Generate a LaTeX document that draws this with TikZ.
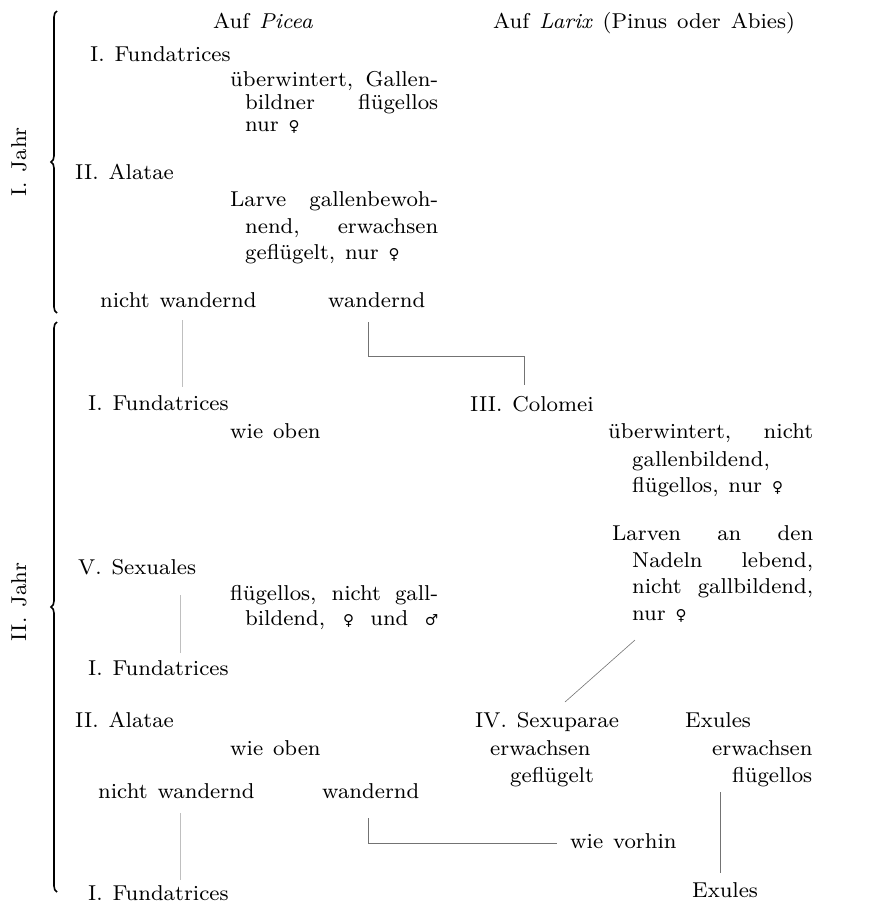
\documentclass[tikz,border=0pt]{standalone}
\usepackage{fontspec}
\setmainfont{lmroman8-regular.otf}[ItalicFont=lmroman8-italic.otf,BoldFont=lmroman10-bold.otf,WordSpace=1.3]
\newfontfamily\symf{DejaVu Serif}
\usetikzlibrary{decorations.pathreplacing}
\newcommand{\fem}{{\symf\fontsize{15}{18}\selectfont ♀}}
\newcommand{\mal}{{\symf\fontsize{15}{18}\selectfont ♂}}
\newcommand{\jline}[2]{\makebox[#1][s]{#2}}
\begin{document}
\begin{tikzpicture}[x=1pt,y=1pt,
  t/.style={anchor=base west,inner sep=0pt,font=\fontsize{21.5}{26}\selectfont},
  conn/.style={draw=black!55,line width=0.6pt},
  faint/.style={draw=black!25,line width=0.6pt},
  bracestyle/.style={decorate,decoration={brace,amplitude=6pt},line width=1.6pt}]
\useasboundingbox (0,0) rectangle (868,-905);
% braces
\draw[bracestyle] (57,-313) -- (57,-11);
\draw[bracestyle] (57,-892) -- (57,-322);
\node[t,anchor=center,rotate=90] (j1) at (19,-162) {I. Jahr};
\node[t,anchor=center,rotate=90] (j2) at (19,-602) {II. Jahr};
% headers
\node[t] (hp) at (213,-28) {Auf \textit{Picea}};
\node[t] (hl) at (493,-28) {Auf \textit{Larix} (Pinus oder Abies)};
% year I
\node[t] (f1) at (90,-61) {I. Fundatrices};
\node[t] (d1a) at (230,-86) {\jline{208pt}{überwintert, Gallen-}};
\node[t] (d1b) at (245,-109) {\jline{193pt}{bildner flügellos}};
\node[t] (d1c) at (245,-131) {nur \fem};
\node[t] (a1) at (75,-179) {II. Alatae};
\node[t] (d2a) at (230,-206) {\jline{208pt}{Larve gallenbewoh-}};
\node[t] (d2b) at (245,-233) {\jline{193pt}{nend, erwachsen}};
\node[t] (d2c) at (245,-259) {geflügelt, nur \fem};
\node[t] (nw1) at (100,-307) {nicht wandernd};
\node[t] (w1) at (328,-307) {wandernd};
% year II
\node[t] (f2) at (88,-410) {I. Fundatrices};
\node[t] (wo1) at (230,-438) {wie oben};
\node[t] (col) at (470,-411) {III. Colomei};
\node[t] (d3a) at (608,-438) {\jline{205pt}{überwintert, nicht}};
\node[t] (d3b) at (632,-466) {gallenbildend,};
\node[t] (d3c) at (632,-492) {flügellos, nur \fem};
\node[t] (d4a) at (612,-540) {\jline{201pt}{Larven an den}};
\node[t] (d4b) at (632,-567) {\jline{181pt}{Nadeln lebend,}};
\node[t] (d4c) at (632,-593) {\jline{181pt}{nicht gallbildend,}};
\node[t] (d4d) at (632,-620) {nur \fem};
\node[t] (sx) at (78,-574) {V. Sexuales};
\node[t] (d5a) at (230,-600) {\jline{208pt}{flügellos, nicht gall-}};
\node[t] (d5b) at (245,-625) {\jline{193pt}{bildend, \fem{} und \mal}};
\node[t] (f3) at (88,-675) {I. Fundatrices};
\node[t] (a2) at (75,-727) {II. Alatae};
\node[t] (wo2) at (230,-755) {wie oben};
\node[t] (nw2) at (98,-798) {nicht wandernd};
\node[t] (w2) at (322,-798) {wandernd};
\node[t] (f4) at (88,-900) {I. Fundatrices};
\node[t] (sp) at (475,-727) {IV. Sexuparae};
\node[t] (spa) at (490,-755) {erwachsen};
\node[t] (spb) at (510,-782) {geflügelt};
\node[t] (ex) at (685,-727) {Exules};
\node[t] (exa) at (712,-755) {erwachsen};
\node[t] (exb) at (732,-782) {flügellos};
\node[t] (wv) at (570,-848) {wie vorhin};
\node[t] (ex2) at (692,-897) {Exules};
% connectors
\coordinate (c1) at (182,-320);
\coordinate (c2) at (182,-387);
\draw[faint] (c1) -- (c2);
\coordinate (c3) at (368,-322);
\coordinate (c4) at (368,-356);
\coordinate (c5) at (524,-356);
\coordinate (c6) at (524,-385);
\draw[conn] (c3) -- (c4) -- (c5) -- (c6);
\coordinate (c7) at (180,-595);
\coordinate (c8) at (180,-653);
\draw[faint] (c7) -- (c8);
\coordinate (c9) at (180,-813);
\coordinate (c10) at (180,-880);
\draw[faint] (c9) -- (c10);
\coordinate (c11) at (635,-640);
\coordinate (c12) at (565,-702);
\draw[conn] (c11) -- (c12);
\coordinate (c13) at (368,-818);
\coordinate (c14) at (368,-843);
\coordinate (c15) at (557,-843);
\draw[conn] (c13) -- (c14) -- (c15);
\coordinate (c16) at (720,-792);
\coordinate (c17) at (720,-873);
\draw[conn] (c16) -- (c17);
\end{tikzpicture}
\end{document}
